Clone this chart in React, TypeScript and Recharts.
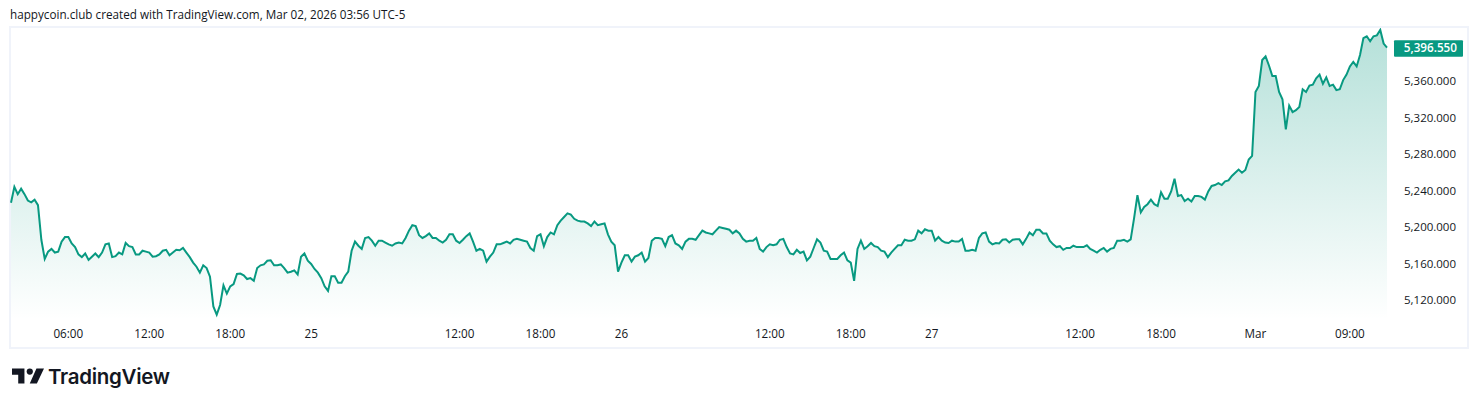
import React from "react";
import { ComposedChart, Area, XAxis, YAxis, ReferenceLine } from "recharts";

// 15-minute closes, one list per stretch of the chart
const pricesFeb24: number[] = [
  5226.6,5244,5236,5242,5236,5229,5227,5230,5224,5186,5165,5173,5176,5172,5173,5184,5189,5189,5182,5178,
  5170,5167,5171,5164,5167.5,5171,5167,5172,5181,5182,5167,5168,5172,5170,5182.5,5179,5178,5170,5170,5174,
  5173,5172,5167.5,5168,5170,5174,5175,5169,5172,5175,5174.5,5177,5172,5167,5161,5156.5,5150,5158,5155,5145.5,
  5113,5104,5114.5,5136,5127,5135,5137.5,5148.5,5149,5147,5143,5144,5141,5155,5158,5159,5163,5163.5,5158,5158,
  5159,5155,5150,5151,5152.5,5148,5167.5,5171,5163,5159.5,5154,5150,5144,5135,5130,5146,5146,5139,5139,5146,5151,
];
const pricesFeb25: number[] = [
  5174,5184,5179.5,5176,5188,5189,5185,5179.5,5185,5185,5183,5181,5179.5,5182,5183,5182,5188,5196,5202,5201,
  5191,5188,5190,5193,5188,5188,5185,5183,5186,5192,5192,5185,5182.5,5186,5190,5193,5184,5174,5176,5174,
  5162,5167.5,5172,5181,5181,5182.5,5184,5182,5186,5187,5186,5185,5184,5177,5174,5190,5192,5179,5189,5194,
  5192,5202,5207,5211,5215,5213.5,5209,5207,5206,5206,5204,5201,5206,5202,5203,5204,5192,5184,5180,
];
const pricesFeb26: number[] = [
  5151,5161,5169,5169,5162,5167.5,5169,5172,5162,5166,5185,5188,5188,5187,5179,5189,5191,5182,5180,5176,
  5184,5187,5187,5186,5191,5196,5194,5193,5192,5196,5200,5199,5198,5197,5193,5196,5193,5187,5184,5185,
  5185,5188,5176,5173,5178,5181,5180,5181,5186,5187,5178,5171,5170,5175,5171.5,5173,5163.5,5167.5,5177,5186.5,
  5183,5174,5173,5165,5165,5165,5169,5172,5163.5,5161,5141,5176,5185,5176,5179,5182.5,5179,5178,5174,5173,
  5167,5172,5176,5180,5180,5186,5185,5185,5186.5,5196,5193,5197.5,5196,5196,5185,5189,5185,5183,5182.5,5185,
  5184,5184,5187,5174,5174,5175,5174,5188,5193,5194,5184,5181,5182.5,5182,5186,5186.5,5183,5186,5186.5,5186.5,
];
const pricesFeb27: number[] = [
  5181,5187,5194,5191,5197,5197,5193,5193,5185,5181,5178,5179,5175,5177,5177,5179.5,5178,5178,5178,5180,
  5176,5174,5172,5175,5177,5173,5176,5177,5185,5185,5186,5184,5186.5,5209.5,5235,5216,5222,5225,5230,5225,
  5223,5238,5231,5231,5239,5253,5234,5235,5228.5,5231,5228,5234,5234,5233,5230,5239,5245,5246,5248,5246,
  5250,5251,5256,5259.5,5263,5259.5,5262.5,5274,5278,
];
const pricesMar01: number[] = [
  5348,5354.5,5383,5387,5377,5365.5,5365.5,5348,5340,5307,5333,5326,5328,5331.5,5351,5348,5355,5356,5363,5367,
  5357,5364,5354.5,5356,5350,5351,5361,5367,5376,5381,5376,5388.5,5407,5409,5403.5,5409,5410,5416,5401,5396.55,
];

const closes = [...pricesFeb24, ...pricesFeb25, ...pricesFeb26, ...pricesFeb27, ...pricesMar01];
const data = closes.map((price, bar) => ({ bar, price }));

const timeTickBars = [17, 41, 65, 89, 133, 157, 181, 225, 249, 273, 317, 341, 369, 397];
const timeTickLabels = ["06:00","12:00","18:00","25","12:00","18:00","26","12:00","18:00","27","12:00","18:00","Mar","09:00"];
const priceTicks = [5120, 5160, 5200, 5240, 5280, 5320, 5360, 5400];
const lastPrice = closes[closes.length - 1];
const title = "happycoin.club created with TradingView.com, Mar 02, 2026 03:56 UTC-5";

const FONT = "'Open Sans', 'Noto Sans', sans-serif";
const INK = "#131722";
const GREEN = "#089981";
const fmt = (v: number) =>
  v.toLocaleString("en-US", { minimumFractionDigits: 3, maximumFractionDigits: 3 });

const LastBadge = (props: any) => {
  const { viewBox } = props;
  const y = viewBox.y + 0.5;
  const x = viewBox.x + viewBox.width;
  return (
    <g>
      <rect x={x + 7} y={y - 8} width={69} height={16.5} rx={1} fill={GREEN} />
      <text x={x + 70} y={y + 4.3} textAnchor="end" fontFamily={FONT} fontSize={11.7} fontWeight={600} fill="#fff">
        {fmt(lastPrice)}
      </text>
    </g>
  );
};

export default function App() {
  return (
    <div style={{ position: "absolute", left: 0, top: 0, width: 1478, height: 407, background: "#fff", overflow: "hidden" }}>
      <div style={{ position: "absolute", left: 10, top: 6, fontFamily: FONT, fontSize: 11.7, lineHeight: "16px", color: INK, whiteSpace: "nowrap" }}>
        {title}
      </div>
      <div style={{ position: "absolute", left: 9, top: 26, width: 1456, height: 319, border: "2px solid #f0f3fa" }} />
      <div style={{ position: "absolute", left: 0, top: 0 }}>
        <ComposedChart width={1478} height={407} data={data} margin={{ top: 28, right: 11, bottom: 57, left: 11 }}>
          <defs>
            <linearGradient id="fade" x1="0" y1="0" x2="0" y2="1">
              <stop offset="0%" stopColor={GREEN} stopOpacity={0.3} />
              <stop offset="100%" stopColor={GREEN} stopOpacity={0} />
            </linearGradient>
          </defs>
          <XAxis
            dataKey="bar"
            type="number"
            domain={[0, closes.length - 1]}
            ticks={timeTickBars}
            tickFormatter={(b: number) => timeTickLabels[timeTickBars.indexOf(b)]}
            axisLine={false}
            tickLine={false}
            interval={0}
            height={30}
            tickMargin={4}
            tick={{ fontFamily: FONT, fontSize: 11.7, fill: INK }}
          />
          <YAxis
            orientation="right"
            width={80}
            domain={[5098.08, 5418.1]}
            allowDataOverflow
            ticks={priceTicks}
            interval={0}
            tickFormatter={fmt}
            axisLine={false}
            tickLine={false}
            tickMargin={11}
            tick={{ fontFamily: FONT, fontSize: 11.5, fill: INK }}
          />
          <Area
            type="linear"
            dataKey="price"
            stroke={GREEN}
            strokeWidth={2}
            fill="url(#fade)"
            fillOpacity={1}
            dot={false}
            activeDot={false}
            isAnimationActive={false}
          />
          <ReferenceLine y={lastPrice} stroke="none" ifOverflow="visible" zIndex={2000} label={<LastBadge />} />
        </ComposedChart>
      </div>
      <svg style={{ position: "absolute", left: 12, top: 368 }} width={32} height={17} viewBox="0 0 36 18">
        <path d="M14 17H7V7H0V0h14v17zM28 17h-8L27.5 0H36l-8 17z" fill="#131722" />
        <circle cx="20" cy="3.5" r="3.5" fill="#131722" />
      </svg>
      <div style={{ position: "absolute", left: 48, top: 364, fontFamily: "Inter, 'Noto Sans', sans-serif", fontWeight: 600, fontSize: 20.5, lineHeight: "26px", color: "#131722", letterSpacing: -0.3 }}>
        TradingView
      </div>
    </div>
  );
}
